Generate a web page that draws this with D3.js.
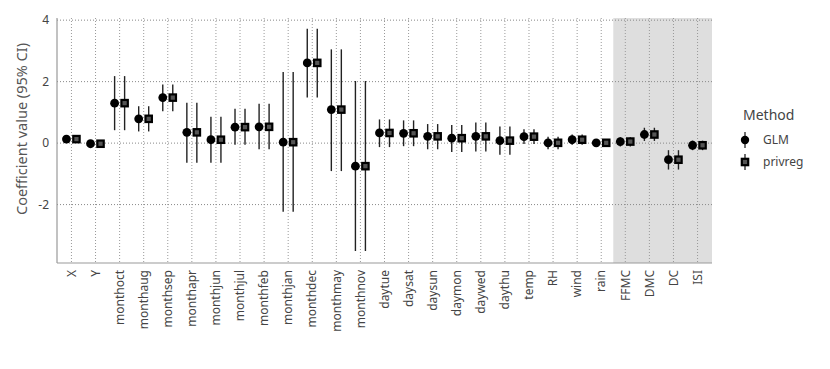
<!DOCTYPE html>
<html>
<head>
<meta charset="utf-8">
<script src="https://cdn.jsdelivr.net/npm/d3@7"></script>
<style>
  body { margin: 0; background: #fff; }
  text { font-family: "Noto Sans", sans-serif; }
</style>
</head>
<body>
<div id="chart"></div>
<script>
// coefficient names, in plotting order
var terms = ["X","Y","monthoct","monthaug","monthsep","monthapr","monthjun","monthjul","monthfeb",
  "monthjan","monthdec","monthmay","monthnov","daytue","daysat","daysun","daymon","daywed","daythu",
  "temp","RH","wind","rain","FFMC","DMC","DC","ISI"];

// GLM estimates and 95% CI
var glmEst = [0.13,-0.02,1.30,0.79,1.48,0.35,0.11,0.52,0.53,0.03,2.61,1.09,-0.75,0.33,0.32,0.22,0.16,0.22,0.08,0.21,0.01,0.11,0.01,0.05,0.28,-0.54,-0.07];
var glmLo  = [0.03,-0.12,0.42,0.38,1.04,-0.64,-0.64,-0.05,-0.20,-2.23,1.48,-0.91,-3.51,-0.13,-0.10,-0.20,-0.29,-0.27,-0.38,-0.03,-0.20,-0.05,-0.07,-0.11,0.07,-0.86,-0.23];
var glmHi  = [0.23,0.08,2.18,1.20,1.91,1.31,0.86,1.12,1.28,2.31,3.72,3.05,2.02,0.77,0.74,0.62,0.59,0.67,0.54,0.45,0.21,0.28,0.09,0.19,0.50,-0.23,0.08];

// privreg estimates and 95% CI
var prvEst = [0.13,-0.02,1.30,0.79,1.48,0.35,0.11,0.52,0.53,0.03,2.61,1.09,-0.75,0.33,0.32,0.22,0.16,0.22,0.08,0.21,0.01,0.11,0.01,0.05,0.28,-0.54,-0.07];
var prvLo  = [0.03,-0.12,0.42,0.38,1.04,-0.64,-0.64,-0.05,-0.20,-2.23,1.48,-0.91,-3.51,-0.13,-0.10,-0.20,-0.29,-0.27,-0.38,-0.03,-0.20,-0.05,-0.07,-0.11,0.07,-0.86,-0.23];
var prvHi  = [0.23,0.08,2.18,1.20,1.91,1.31,0.86,1.12,1.28,2.31,3.72,3.05,2.02,0.77,0.74,0.62,0.59,0.67,0.54,0.45,0.21,0.28,0.09,0.19,0.50,-0.23,0.08];

var yTicks = [-2, 0, 2, 4];
var methods = ["GLM", "privreg"];
var shaded = ["FFMC","DMC","DC","ISI"];

var width = 830, height = 369;
var margin = {top: 18, right: 118, bottom: 106, left: 57};
var plotW = width - margin.left - margin.right,
    plotH = height - margin.top - margin.bottom;

var svg = d3.select("#chart").append("svg")
    .attr("width", width)
    .attr("height", height);

var g = svg.append("g")
    .attr("transform", "translate(" + margin.left + "," + margin.top + ")");

var x = d3.scalePoint().domain(terms).range([0, plotW]).padding(0.6);
var y = d3.scaleLinear().domain([-3.9, 4.07]).range([plotH, 0]);
var dodge = d3.scalePoint().domain(methods).range([-5, 5]);

// grey band behind the fire-index terms
var step = x.step();
g.append("rect")
    .attr("x", x(shaded[0]) - step / 2)
    .attr("y", 0)
    .attr("width", plotW - (x(shaded[0]) - step / 2))
    .attr("height", plotH)
    .attr("fill", "#dedede");

// dotted grid
g.selectAll(".hgrid").data(yTicks).enter().append("line")
    .attr("x1", 0).attr("x2", plotW)
    .attr("y1", function (d) { return y(d); })
    .attr("y2", function (d) { return y(d); })
    .attr("stroke", "#888").attr("stroke-width", 1)
    .attr("stroke-dasharray", "1,2");

g.selectAll(".vgrid").data(terms).enter().append("line")
    .attr("x1", function (d) { return x(d); })
    .attr("x2", function (d) { return x(d); })
    .attr("y1", 0).attr("y2", plotH)
    .attr("stroke", "#999").attr("stroke-width", 1)
    .attr("stroke-dasharray", "1,2");

// axes lines
g.append("line").attr("x1", 0).attr("x2", 0).attr("y1", 0).attr("y2", plotH)
    .attr("stroke", "#999").attr("stroke-width", 1.2);
g.append("line").attr("x1", 0).attr("x2", plotW).attr("y1", plotH).attr("y2", plotH)
    .attr("stroke", "#999").attr("stroke-width", 1.2);

// tick labels
g.selectAll(".ylab").data(yTicks).enter().append("text")
    .attr("x", -8)
    .attr("y", function (d) { return y(d); })
    .attr("dy", "0.35em")
    .attr("text-anchor", "end")
    .attr("font-size", 12)
    .attr("fill", "#444")
    .text(function (d) { return d; });

g.selectAll(".xlab").data(terms).enter().append("text")
    .attr("transform", function (d) { return "translate(" + x(d) + "," + (plotH + 7) + ") rotate(-90)"; })
    .attr("dy", "0.35em")
    .attr("text-anchor", "end")
    .attr("font-size", 12)
    .attr("fill", "#444")
    .text(function (d) { return d; });

svg.append("text")
    .attr("transform", "translate(27,129) rotate(-90)")
    .attr("text-anchor", "middle")
    .attr("font-size", 14.5)
    .attr("fill", "#555")
    .text("Coefficient value (95% CI)");

// build rows from the arrays
var rows = [];
terms.forEach(function (t, i) {
  rows.push({term: t, method: "GLM", est: glmEst[i], lo: glmLo[i], hi: glmHi[i]});
  rows.push({term: t, method: "privreg", est: prvEst[i], lo: prvLo[i], hi: prvHi[i]});
});

function cx(d) { return x(d.term) + dodge(d.method); }

g.selectAll(".ci").data(rows).enter().append("line")
    .attr("x1", cx).attr("x2", cx)
    .attr("y1", function (d) { return y(d.lo); })
    .attr("y2", function (d) { return y(d.hi); })
    .attr("stroke", "#222").attr("stroke-width", 1.4);

g.selectAll(".pt-glm").data(rows.filter(function (d) { return d.method === "GLM"; }))
  .enter().append("circle")
    .attr("cx", cx)
    .attr("cy", function (d) { return y(d.est); })
    .attr("r", 4.4)
    .attr("fill", "#000");

g.selectAll(".pt-prv").data(rows.filter(function (d) { return d.method === "privreg"; }))
  .enter().append("rect")
    .attr("x", function (d) { return cx(d) - 3.2; })
    .attr("y", function (d) { return y(d.est) - 3.2; })
    .attr("width", 6.4).attr("height", 6.4)
    .attr("fill", "#555")
    .attr("stroke", "#000").attr("stroke-width", 2.2);

// legend
var leg = svg.append("g").attr("transform", "translate(743,0)");
leg.append("text").attr("x", 0).attr("y", 120)
    .attr("font-size", 14).attr("fill", "#444").text("Method");

methods.forEach(function (m, i) {
  var ky = 140 + i * 22;
  leg.append("line").attr("x1", 2).attr("x2", 2).attr("y1", ky - 8).attr("y2", ky + 8)
      .attr("stroke", "#333").attr("stroke-width", 1.4);
  if (m === "GLM") {
    leg.append("circle").attr("cx", 2).attr("cy", ky).attr("r", 4.2).attr("fill", "#000");
  } else {
    leg.append("rect").attr("x", -1.2).attr("y", ky - 3.2).attr("width", 6.4).attr("height", 6.4)
        .attr("fill", "#555").attr("stroke", "#000").attr("stroke-width", 2.2);
  }
  leg.append("text").attr("x", 20).attr("y", ky).attr("dy", "0.35em")
      .attr("font-size", 12).attr("fill", "#444").text(m);
});
</script>
</body>
</html>
